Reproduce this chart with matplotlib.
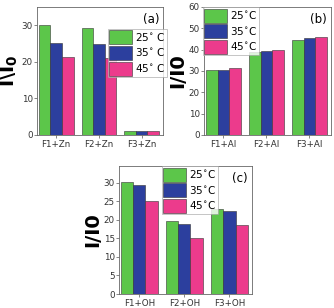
import matplotlib
matplotlib.use("Agg")
import matplotlib.pyplot as plt
import numpy as np

# temperatures
temps_a = ["25$^{\\circ}$ C", "35$^{\\circ}$ C", "45$^{\\circ}$ C"]
temps_bc = ["25$^{\\circ}$C", "35$^{\\circ}$C", "45$^{\\circ}$C"]
colors = ["#5cc64a", "#2c3f9e", "#ec3b8c"]

# (a) Zn
cats_a = ["F1+Zn", "F2+Zn", "F3+Zn"]
vals_a = [[30.0, 29.2, 1.0],
          [25.1, 24.8, 1.0],
          [21.3, 21.0, 1.0]]

# (b) Al
cats_b = ["F1+Al", "F2+Al", "F3+Al"]
vals_b = [[30.3, 38.8, 44.7],
          [30.7, 39.3, 45.3],
          [31.2, 40.0, 45.8]]

# (c) OH
cats_c = ["F1+OH", "F2+OH", "F3+OH"]
vals_c = [[30.2, 19.7, 22.9],
          [29.5, 18.9, 22.3],
          [25.0, 15.0, 18.5]]

W, H = 334, 308
fig = plt.figure(figsize=(W/100, H/100), dpi=100)

def box(x0, y0, x1, y1):
    return [x0/W, 1 - y1/H, (x1-x0)/W, (y1-y0)/H]

def panel(rect, cats, vals, labels, ylim, yticks, ylabel, tag, leg_loc):
    ax = fig.add_axes(rect)
    x = np.arange(len(cats))
    bw = 0.27
    for i in range(3):
        ax.bar(x + (i-1)*bw, vals[i], bw, color=colors[i], edgecolor="#333333",
               linewidth=0.4, label=labels[i])
    ax.set_xticks(x)
    ax.set_xticklabels(cats, fontsize=6.3)
    ax.set_yticks(yticks)
    ax.tick_params(axis="y", labelsize=6.3, length=2, width=0.5, pad=1, colors="#555555", labelcolor="#333333")
    ax.tick_params(axis="x", length=2, width=0.5, pad=1.5, colors="#555555", labelcolor="#333333")
    ax.set_xlim(-0.45, 2.5)
    ax.set_ylim(*ylim)
    ax.set_ylabel(ylabel, fontsize=14, fontweight="bold", labelpad=1)
    for s in ax.spines.values():
        s.set_linewidth(0.6)
        s.set_color("#666666")
    ax.text(0.97, 0.95, tag, transform=ax.transAxes, ha="right", va="top", fontsize=8.5)
    leg = ax.legend(loc="upper left", bbox_to_anchor=leg_loc, fontsize=7.5, frameon=True,
                    handlelength=2.2, handleheight=1.7, handletextpad=0.3,
                    borderpad=0.15, labelspacing=0.15, fancybox=False, borderaxespad=0)
    leg.get_frame().set_linewidth(0.5)
    leg.get_frame().set_edgecolor("#999999")
    return ax

panel(box(37, 7, 163, 135), cats_a, vals_a, temps_a, (0, 35), [0, 10, 20, 30],
      "I\\I$\\mathbf{_0}$", "(a)", (0.56, 0.83))
panel(box(204, 7, 331, 135), cats_b, vals_b, temps_bc, (0, 60), [0, 10, 20, 30, 40, 50, 60],
      "I/I0", "(b)", (-0.01, 1.0))
panel(box(119, 166, 252, 294), cats_c, vals_c, temps_bc, (0, 34.5), [0, 5, 10, 15, 20, 25, 30],
      "I/I0", "(c)", (0.32, 1.0))

fig.savefig("out.png", dpi=100)
